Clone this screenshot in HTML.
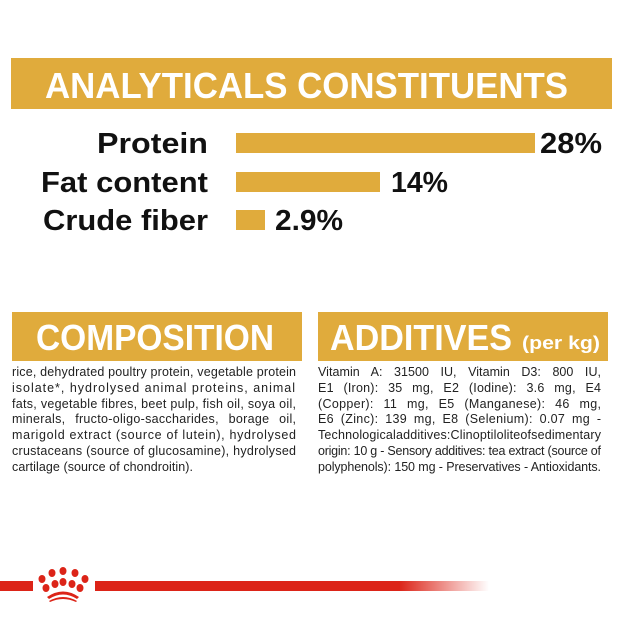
<!DOCTYPE html>
<html><head><meta charset="utf-8"><style>
html,body{margin:0;padding:0;background:#fff;width:620px;height:620px;overflow:hidden}
svg{display:block}
</style></head><body>
<svg width="620" height="620" viewBox="0 0 620 620" xmlns="http://www.w3.org/2000/svg" font-family="Liberation Sans, sans-serif">
<defs><linearGradient id="g" x1="0" x2="1"><stop offset="0" stop-color="#dc2418"/><stop offset="1" stop-color="#dc2418" stop-opacity="0"/></linearGradient></defs>
<rect x="11" y="58" width="601" height="51" fill="#e0ab3c"/>
<text x="45" y="98" font-size="36" font-weight="bold" fill="#fff" textLength="523" lengthAdjust="spacingAndGlyphs">ANALYTICALS CONSTITUENTS</text>
<g font-weight="bold" font-size="29" fill="#111">
<text x="208" y="153" text-anchor="end" textLength="111" lengthAdjust="spacingAndGlyphs">Protein</text>
<text x="208" y="192" text-anchor="end" textLength="167" lengthAdjust="spacingAndGlyphs">Fat content</text>
<text x="208" y="230" text-anchor="end" textLength="165" lengthAdjust="spacingAndGlyphs">Crude fiber</text>
<text x="540" y="153" textLength="62" lengthAdjust="spacingAndGlyphs">28%</text>
<text x="391" y="192" textLength="57" lengthAdjust="spacingAndGlyphs">14%</text>
<text x="275" y="230" textLength="68" lengthAdjust="spacingAndGlyphs">2.9%</text>
</g>
<g fill="#e0ab3c">
<rect x="236" y="133" width="299" height="20"/>
<rect x="236" y="172" width="144" height="20"/>
<rect x="236" y="210" width="29" height="20"/>
<rect x="12" y="312" width="290" height="49"/>
<rect x="318" y="312" width="290" height="49"/>
</g>
<text x="36" y="350" font-size="36" font-weight="bold" fill="#fff" textLength="238" lengthAdjust="spacingAndGlyphs">COMPOSITION</text>
<text x="330" y="350" font-size="36" font-weight="bold" fill="#fff" textLength="182" lengthAdjust="spacingAndGlyphs">ADDITIVES</text>
<text x="522" y="349" font-size="18" font-weight="bold" fill="#fff" textLength="78" lengthAdjust="spacingAndGlyphs">(per kg)</text>
<g font-size="12.5" fill="#222" lengthAdjust="spacingAndGlyphs">
<text x="12" y="376" textLength="284">rice, dehydrated poultry protein, vegetable protein</text>
<text x="12" y="392" textLength="284" letter-spacing="1">isolate*,  hydrolysed  animal  proteins,  animal</text>
<text x="12" y="408" textLength="284">fats, vegetable fibres, beet pulp, fish oil, soya oil,</text>
<text x="12" y="423" textLength="284" word-spacing="6">minerals, fructo-oligo-saccharides, borage oil,</text>
<text x="12" y="439" textLength="284">marigold extract (source of lutein), hydrolysed</text>
<text x="12" y="455" textLength="284">crustaceans (source of glucosamine), hydrolysed</text>
<text x="12" y="471" textLength="181">cartilage (source of chondroitin).</text>
<text x="318" y="376" textLength="283" word-spacing="8">Vitamin A: 31500 IU, Vitamin D3: 800 IU,</text>
<text x="318" y="392" textLength="283" word-spacing="6">E1 (Iron): 35 mg, E2 (Iodine): 3.6 mg, E4</text>
<text x="318" y="408" textLength="283" word-spacing="6">(Copper): 11 mg, E5 (Manganese): 46 mg,</text>
<text x="318" y="423" textLength="283" word-spacing="3">E6 (Zinc): 139 mg, E8 (Selenium): 0.07 mg -</text>
<text x="318" y="439" textLength="283">Technologicaladditives:Clinoptiloliteofsedimentary</text>
<text x="318" y="455" textLength="283">origin: 10 g - Sensory additives: tea extract (source of</text>
<text x="318" y="471" textLength="283">polyphenols): 150 mg - Preservatives - Antioxidants.</text>
</g>
<rect x="0" y="581" width="33" height="10" fill="#dc2418"/>
<rect x="95" y="581" width="305" height="10" fill="#dc2418"/>
<rect x="399" y="581" width="90" height="10" fill="url(#g)"/>
<g fill="#dc2418">
<ellipse cx="42" cy="579" rx="3.5" ry="4"/><ellipse cx="52" cy="573" rx="3.5" ry="4"/><ellipse cx="63" cy="571" rx="3.5" ry="4"/><ellipse cx="75" cy="573" rx="3.5" ry="4"/><ellipse cx="85" cy="579" rx="3.5" ry="4"/>
<ellipse cx="46" cy="588" rx="3.5" ry="4"/><ellipse cx="55" cy="584" rx="3.5" ry="4"/><ellipse cx="63" cy="582" rx="3.5" ry="4"/><ellipse cx="72" cy="584" rx="3.5" ry="4"/><ellipse cx="80" cy="588" rx="3.5" ry="4"/>
<path d="M47 597 Q63 586 79 597 L77 599 Q63 590 49 599Z"/>
<path d="M49 601 Q63 593 77 601 L76 602 Q63 596 50 602Z"/>
</g>
</svg>
</body></html>
